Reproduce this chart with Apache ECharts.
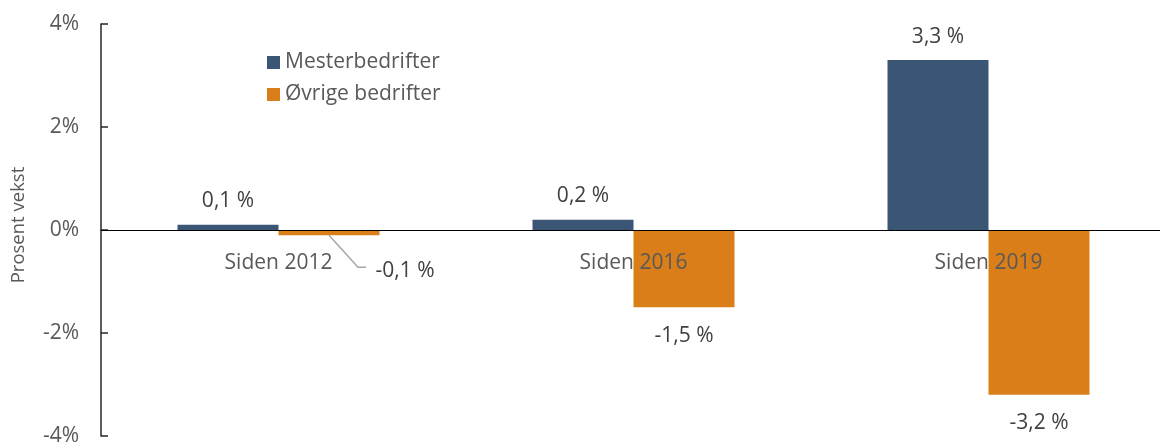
<!DOCTYPE html>
<html>
<head>
<meta charset="utf-8">
<script src="https://cdn.jsdelivr.net/npm/echarts@6/dist/echarts.min.js"></script>
<style>
  html, body { margin: 0; padding: 0; background: #fff; }
  #chart { width: 1160px; height: 444px; }
</style>
</head>
<body>
<div id="chart"></div>
<script>
// Growth since each base year, in percent
const categories = ['Siden 2012', 'Siden 2016', 'Siden 2019'];
const mesterbedrifter = [0.1, 0.2, 3.3];
const ovrigeBedrifter = [-0.1, -1.5, -3.2];
const seriesNames = ['Mesterbedrifter', 'Øvrige bedrifter'];
const yTicks = [-4, -2, 0, 2, 4];

const FONT = '"Open Sans", sans-serif';
const FS = 21;
const BAR_W = 101;
const fmtValue = v => String(v).replace('.', ',') + ' %';

const chart = echarts.init(document.getElementById('chart'));

chart.setOption({
  animation: false,
  textStyle: { fontFamily: FONT },
  legend: {
    orient: 'vertical',
    left: 262,
    top: 47,
    itemWidth: 13,
    itemHeight: 13,
    itemGap: 11,
    icon: 'rect',
    textStyle: { fontFamily: FONT, fontSize: FS, color: '#595959' },
    data: seriesNames
  },
  grid: {
    left: 101, top: 24, width: 1065, height: 412,
    containLabel: false,
    outerBoundsMode: 'none'
  },
  xAxis: {
    type: 'category',
    data: categories,
    z: 10,
    axisLine: { onZero: true, lineStyle: { color: '#000', width: 1 } },
    axisTick: { show: false },
    axisLabel: { show: false }
  },
  yAxis: {
    type: 'value',
    min: yTicks[0],
    max: yTicks[yTicks.length - 1],
    interval: 2,
    name: 'Prosent vekst',
    nameLocation: 'middle',
    nameGap: 73,
    nameTextStyle: { fontSize: 18.5, color: '#595959', fontFamily: FONT, padding: [0, 0, 0, 10] },
    splitLine: { show: false },
    axisLine: { show: true, lineStyle: { color: '#262626', width: 1.5 } },
    axisTick: { show: true, inside: true, length: 7, lineStyle: { color: '#262626', width: 1.5 } },
    axisLabel: { margin: 22, fontSize: FS, color: '#595959', fontFamily: FONT, formatter: v => v + '%' }
  },
  series: [
    {
      name: seriesNames[0],
      type: 'bar',
      data: mesterbedrifter,
      barWidth: BAR_W,
      barGap: '0%',
      itemStyle: { color: '#3A5674' },
      label: {
        show: true,
        position: 'top',
        distance: 13,
        fontSize: FS,
        color: '#404040',
        fontFamily: FONT,
        formatter: p => fmtValue(p.value)
      }
    },
    {
      name: seriesNames[1],
      type: 'bar',
      data: ovrigeBedrifter,
      barWidth: BAR_W,
      barGap: '0%',
      itemStyle: { color: '#D97E18' },
      label: {
        show: true,
        position: 'bottom',
        distance: 18,
        fontSize: FS,
        color: '#404040',
        fontFamily: FONT,
        formatter: p => fmtValue(p.value)
      },
      // the near-zero label is pushed aside so it clears the category label
      labelLayout: function (params) {
        if (params.dataIndex === 0) {
          return { dx: 76, dy: 7 };
        }
        return {};
      }
    },
    {
      // leader line from the pushed-aside label back to its bar
      type: 'custom',
      silent: true,
      z: 5,
      data: [[0, ovrigeBedrifter[0]]],
      renderItem: function (params, api) {
        const p = api.coord([api.value(0), api.value(1)]);
        const x0 = p[0] + BAR_W / 2;
        const y0 = p[1];
        return {
          type: 'polyline',
          shape: { points: [[x0, y0], [x0 + 29, y0 + 32], [x0 + 37, y0 + 32]] },
          style: { stroke: '#a6a6a6', lineWidth: 1.5, fill: null }
        };
      }
    },
    {
      // category names, set just below the zero line and drawn over the bars
      type: 'custom',
      silent: true,
      z: 20,
      data: categories.map((c, i) => [i, 0]),
      renderItem: function (params, api) {
        const p = api.coord([api.value(0), api.value(1)]);
        return {
          type: 'text',
          x: p[0],
          y: p[1] + 33,
          style: {
            text: categories[params.dataIndex],
            fill: '#595959',
            font: FS + 'px ' + FONT,
            align: 'center',
            verticalAlign: 'middle'
          }
        };
      }
    }
  ]
});
</script>
</body>
</html>
